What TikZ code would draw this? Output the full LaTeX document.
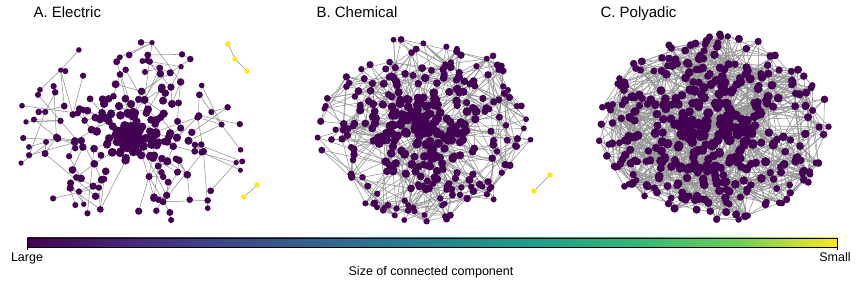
\documentclass[tikz,border=0pt]{standalone}
\usepackage{fontspec}
\setmainfont{Liberation Sans}
\usetikzlibrary{calc}

\definecolor{viola}{RGB}{68,1,84}
\definecolor{giallo}{RGB}{253,231,37}

% Scala viridis
\pgfdeclarehorizontalshading{viridis}{100bp}{%
  rgb(0bp)=(0.267,0.004,0.329); rgb(25bp)=(0.267,0.004,0.329);
  rgb(31.25bp)=(0.282,0.157,0.471); rgb(37.5bp)=(0.243,0.286,0.537);
  rgb(43.75bp)=(0.192,0.408,0.557); rgb(50bp)=(0.149,0.510,0.557);
  rgb(56.25bp)=(0.122,0.620,0.537); rgb(62.5bp)=(0.208,0.718,0.475);
  rgb(68.75bp)=(0.427,0.804,0.349); rgb(75bp)=(0.992,0.906,0.145);
  rgb(100bp)=(0.992,0.906,0.145)}

\tikzset{
  arco/.style={draw=gray!85, line width=0.55pt},
  titolo/.style={anchor=base west, font=\fontsize{15}{17}\selectfont},
  etichetta/.style={anchor=base, font=\fontsize{12.5}{14}\selectfont},
}

% arco verso il piu' vicino di #3 nodi precedenti scelti a caso
\newcommand{\arcovicino}[3]{%
  \xdef\best{1}\xdef\bestd{9000}%
  \foreach \k in {1,...,#3}{%
    \pgfmathtruncatemacro{\q}{random(1,#2-1)}%
    \pgfmathsetmacro{\d}{veclen(\csname#1x#2\endcsname-\csname#1x\q\endcsname,\csname#1y#2\endcsname-\csname#1y\q\endcsname)}%
    \ifdim\d pt<\bestd pt\relax \xdef\best{\q}\xdef\bestd{\d}\fi
  }%
  \draw[arco] (#1\best) -- (#1#2);%
}

% #1 nome, #2 nodi, #3 #4 centro, #5 #6 raggi, #7 esponente, #8 archi extra, #9 raggio nodo
\newcommand{\disegnarete}[9]{%
  \foreach \i in {1,...,#2}{%
    \pgfmathsetmacro{\u}{(0.02+0.98*rnd)^#7}%
    \pgfmathsetmacro{\ang}{360*rnd}%
    \pgfmathsetmacro{\x}{#3+#5*\u*cos(\ang)}%
    \pgfmathsetmacro{\y}{#4+#6*\u*sin(\ang)}%
    \pgfmathsetmacro{\r}{#9+0.9*rnd+1.6*(1-\u)}%
    \expandafter\xdef\csname#1x\i\endcsname{\x}%
    \expandafter\xdef\csname#1y\i\endcsname{\y}%
    \expandafter\xdef\csname#1r\i\endcsname{\r}%
    \coordinate (#1\i) at (\x,\y);%
    \ifnum\i>1
      \arcovicino{#1}{\i}{22}%
      \ifnum#8>0
        \foreach \e in {1,...,#8}{\arcovicino{#1}{\i}{7}}%
      \fi
    \fi
  }%
  \foreach \i in {1,...,#2}{%
    \fill[viola] (#1\i) circle (\csname#1r\i\endcsname);%
  }%
}

\begin{document}
\begin{tikzpicture}[x=1pt,y=-1pt]
  \useasboundingbox (0,0) rectangle (864,284);
  \pgfmathsetseed{11}

  % Reti principali
  \disegnarete{a}{270}{132}{136}{118}{98}{1.3}{0}{2.4}
  \disegnarete{b}{350}{425}{128}{108}{94}{0.95}{2}{2.7}
  \disegnarete{c}{420}{714}{128}{116}{94}{0.7}{4}{3.1}

  % Componenti piccole
  \coordinate (ya1) at (228,44);
  \coordinate (ya2) at (235,59);
  \coordinate (ya3) at (247,71);
  \coordinate (ya4) at (257,185);
  \coordinate (ya5) at (244,197);
  \coordinate (yb1) at (550,175);
  \coordinate (yb2) at (534,191);
  \draw[arco] (ya1) -- (ya2) -- (ya3);
  \draw[arco] (ya4) -- (ya5);
  \draw[arco] (yb1) -- (yb2);
  \foreach \n in {ya1,ya2,ya3,ya4,ya5,yb1,yb2}
    \fill[giallo] (\n) circle (2.8);

  % Titoli
  \node[titolo] (titoloA) at (30,17.5) {A. Electric};
  \node[titolo] (titoloB) at (313,17.5) {B. Chemical};
  \node[titolo] (titoloC) at (597,17.5) {C. Polyadic};

  % Barra dei colori
  \node[draw=black, line width=0.6pt, shade, shading=viridis, inner sep=0pt,
        minimum width=810pt, minimum height=9pt, anchor=north west] (barra) at (27,237.5) {};
  \draw[line width=0.6pt] (barra.south west) -- ++(0,2.5);
  \draw[line width=0.6pt] (barra.south east) -- ++(0,2.5);
  \node[etichetta] (large) at (27,261.5) {Large};
  \node[etichetta] (small) at (835,261.5) {Small};
  \node[etichetta] (legenda) at (431,275.5) {Size of connected component};
\end{tikzpicture}
\end{document}
